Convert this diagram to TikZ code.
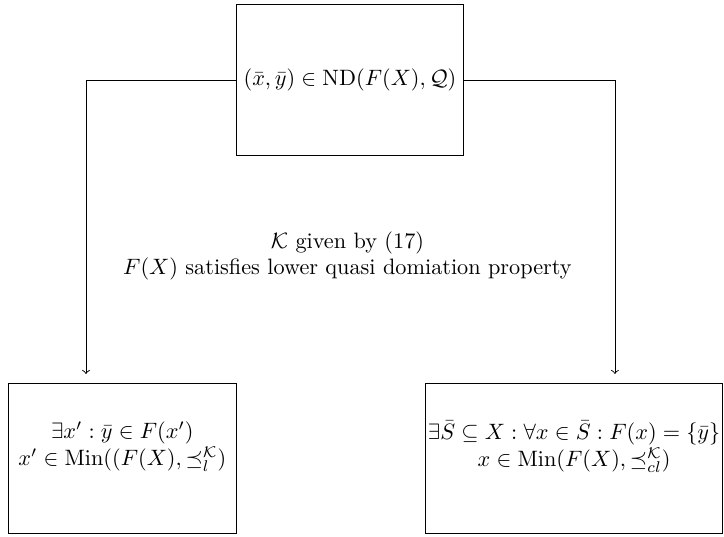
\documentclass[tikz,border=0pt]{standalone}
\usepackage{amsmath}
\usepackage{amssymb}
\usetikzlibrary{calc}

\tikzset{
  stmt/.style={draw, line width=0.4pt, minimum height=2.38cm, inner sep=0pt},
  flow/.style={->, line width=0.4pt}
}

\begin{document}
\begin{tikzpicture}

\useasboundingbox (0,0) rectangle (11.44,-8.47);

% ---- the starting statement ----
\node[stmt, minimum width=3.60cm] (nd) at (5.53,-1.266)
  {$(\bar{x},\bar{y})\in\mathrm{ND}(F(X),\mathcal{Q})$};

% ---- the two conclusions ----
\node[stmt, minimum width=3.60cm] (lbox) at (1.932,-7.242) {};
\node[align=center] (ltxt) at (1.932,-7.06)
  {$\exists x':\bar{y}\in F(x')$\\ $x'\in\mathrm{Min}((F(X),\preceq_l^{\mathcal{K}})$};

\node[stmt, minimum width=4.69cm] (rbox) at (9.071,-7.242) {};
\node[align=center] (rtxt) at (9.071,-7.06)
  {$\exists\bar{S}\subseteq X:\forall x\in\bar{S}:F(x)=\{\bar{y}\}$\\ $x\in\mathrm{Min}(F(X),\preceq_{cl}^{\mathcal{K}})$};

% ---- assumptions ----
\node[align=center] (cond) at (5.49,-4.045)
  {$\mathcal{K}$ given by (17)\\ $F(X)$ satisfies lower quasi domiation property};

\coordinate (lend) at (1.359,-5.909);
\coordinate (rend) at (9.717,-5.909);
\draw[flow] (nd.west) -| (lend);
\draw[flow] (nd.east) -| (rend);

\end{tikzpicture}
\end{document}
